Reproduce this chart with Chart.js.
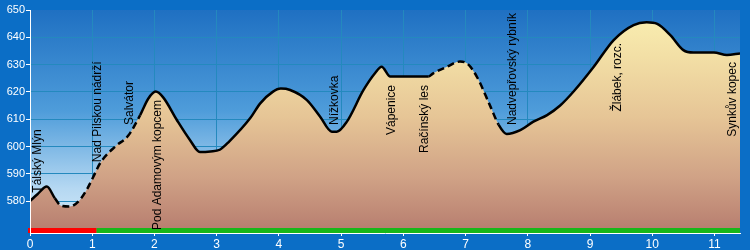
<!DOCTYPE html>
<html>
<head>
<meta charset="utf-8">
<script src="https://cdn.jsdelivr.net/npm/chart.js@4/dist/chart.umd.min.js"></script>
<style>
  html, body { margin: 0; padding: 0; background: #0B6EC6; }
  canvas { display: block; }
</style>
</head>
<body>
<canvas id="c" width="750" height="250"></canvas>
<script>
// ---- data ----
const profileKm = [0, 0.12, 0.27, 0.40, 0.50, 0.64, 0.80, 0.92, 1.02, 1.13, 1.37, 1.58, 1.77, 1.90, 2.02, 2.14, 2.36, 2.57, 2.73, 2.90, 3.05, 3.20, 3.54, 3.70, 3.90, 4.03, 4.18, 4.45, 4.66, 4.85, 4.93, 5.09, 5.36, 5.55, 5.65, 5.79, 6.40, 6.48, 6.70, 6.91, 7.02, 7.18, 7.40, 7.53, 7.66, 7.88, 8.09, 8.31, 8.52, 8.75, 9.06, 9.38, 9.70, 9.91, 10.08, 10.29, 10.50, 10.66, 10.99, 11.20, 11.41];
const profileElev = [580, 582.5, 585.3, 581, 578.3, 578, 580.4, 584.5, 589, 594, 600, 604, 611.5, 617.5, 620.1, 618, 609.7, 602.4, 598, 598.2, 598.8, 601.8, 610.4, 615.8, 620, 621.2, 620.7, 617, 611, 605.4, 605.4, 609, 620.7, 627, 629.2, 625.6, 625.6, 626.8, 629.2, 631.1, 630.5, 625.6, 614.6, 608, 604.6, 606, 609.1, 611.5, 615, 620.5, 629.2, 639, 644.5, 645.5, 644.9, 640.8, 635.3, 634.4, 634.4, 633.5, 634.1];
const unmarkedKmRanges = [[0.40, 1.75], [6.40, 7.50]];

const waypointNames = ['Tálský Mlýn', 'Nad Pilskou nádrží', 'Salvátor', 'Pod Adamovým kopcem', 'Nížkovka', 'Vápenice', 'Račínský les', 'Nadvepřovský rybník', 'Žlábek, rozc.', 'Synkův kopec'];
const waypointKm = [0.12, 1.09, 1.61, 2.06, 4.90, 5.82, 6.35, 7.75, 9.45, 11.29];
const waypointElev = [580.5, 591.7, 605.3, 619.6, 605.3, 625.1, 625.1, 605.3, 640.5, 633.5];
const waypointSide = ['above', 'above', 'above', 'below', 'above', 'below', 'below', 'above', 'below', 'below'];

const surfaceBreaksKm = [0, 1.07, 11.41];
const surfaceKinds = ['road', 'path'];

const xTickValues = [0, 1, 2, 3, 4, 5, 6, 7, 8, 9, 10, 11];
const yTickValues = [580, 590, 600, 610, 620, 630, 640, 650];

// ---- styles ----
const FONT = '"Liberation Sans", Arial, sans-serif';
const outerBlue = '#0B6EC6';
const gridColor = '#2489BE';
const surfaceColors = { road: '#FF0000', path: '#19B719' };

function inUnmarked(km) {
  return unmarkedKmRanges.some(r => km >= r[0] - 1e-6 && km < r[1] - 1e-6);
}

const bgPlugin = {
  id: 'bg',
  beforeDraw(chart) {
    const { ctx, chartArea: a } = chart;
    ctx.save();
    ctx.fillStyle = outerBlue;
    ctx.fillRect(0, 0, chart.width, chart.height);
    const g = ctx.createLinearGradient(0, a.top, 0, a.bottom);
    g.addColorStop(0, '#1F70C2');
    g.addColorStop(0.45, '#4E9CDA');
    g.addColorStop(0.8, '#B5D8F2');
    g.addColorStop(1, '#D8ECFA');
    ctx.fillStyle = g;
    ctx.fillRect(a.left, a.top, a.right - a.left, a.bottom - a.top);
    ctx.restore();
  },
  afterDatasetsDraw(chart) {
    const { ctx, chartArea: a, scales } = chart;
    const xs = scales.x, ys = scales.y;
    ctx.save();
    // surface bar
    ctx.lineWidth = 5;
    ctx.lineCap = 'butt';
    const yb = a.bottom - 2.5;
    for (let i = 0; i < surfaceKinds.length; i++) {
      ctx.strokeStyle = surfaceColors[surfaceKinds[i]];
      ctx.beginPath();
      ctx.moveTo(xs.getPixelForValue(surfaceBreaksKm[i]) - (i === 0 ? 2 : 0), yb);
      ctx.lineTo(xs.getPixelForValue(surfaceBreaksKm[i + 1]), yb);
      ctx.stroke();
    }
    // waypoint labels
    ctx.fillStyle = '#000';
    ctx.font = '12px ' + FONT;
    ctx.textBaseline = 'middle';
    const gap = 7;
    for (let i = 0; i < waypointNames.length; i++) {
      const px = xs.getPixelForValue(waypointKm[i]);
      const py = ys.getPixelForValue(waypointElev[i]);
      ctx.save();
      if (waypointSide[i] === 'above') {
        ctx.translate(px, py - gap);
        ctx.rotate(-Math.PI / 2);
        ctx.textAlign = 'left';
      } else {
        ctx.translate(px, py + gap);
        ctx.rotate(-Math.PI / 2);
        ctx.textAlign = 'right';
      }
      ctx.fillText(waypointNames[i], 0, 0);
      ctx.restore();
    }
    ctx.restore();
  }
};

const points = profileKm.map((k, i) => ({ x: k, y: profileElev[i] }));

new Chart(document.getElementById('c'), {
  type: 'line',
  data: {
    datasets: [{
      // outline (drawn on top)
      data: points,
      order: 0,
      borderColor: '#000',
      borderWidth: 2.5,
      pointRadius: 0,
      cubicInterpolationMode: 'monotone',
      fill: false,
      segment: {
        borderDash: (ctx) => inUnmarked(ctx.p0.parsed.x) ? [7, 4] : undefined
      }
    }, {
      // terrain fill
      data: points,
      order: 1,
      borderWidth: 0,
      borderColor: 'rgba(0,0,0,0)',
      pointRadius: 0,
      cubicInterpolationMode: 'monotone',
      fill: 'start',
      backgroundColor: (ctx) => {
        const a = ctx.chart.chartArea;
        if (!a) return '#E5C394';
        const g = ctx.chart.ctx.createLinearGradient(0, a.top, 0, a.bottom);
        g.addColorStop(0, '#FAF0B2');
        g.addColorStop(0.2, '#F3E0A6');
        g.addColorStop(0.48, '#E6C596');
        g.addColorStop(0.75, '#D0A286');
        g.addColorStop(1, '#B67C6E');
        return g;
      }
    }]
  },
  options: {
    responsive: false,
    devicePixelRatio: 1,
    animation: false,
    layout: { padding: { top: 10, right: 10, left: 0, bottom: 0 } },
    plugins: { legend: { display: false }, tooltip: { enabled: false } },
    scales: {
      x: {
        type: 'linear',
        min: 0,
        max: 11.41,
        afterBuildTicks: (s) => { s.ticks = xTickValues.map(v => ({ value: v })); },
        afterFit: (s) => { s.height = 17; },
        grid: {
          color: (c) => (c.tick && c.tick.value === 0) ? 'rgba(0,0,0,0)' : gridColor,
          tickColor: '#FFFFFF',
          tickLength: 3,
          lineWidth: 1
        },
        border: { color: '#FFFFFF', width: 1, z: 1 },
        ticks: {
          color: '#FFFFFF',
          font: { size: 12, family: FONT },
          padding: 1,
          maxRotation: 0,
          autoSkip: false
        }
      },
      y: {
        type: 'linear',
        min: 568.3,
        max: 650,
        afterBuildTicks: (s) => { s.ticks = yTickValues.map(v => ({ value: v })); },
        afterFit: (s) => { s.width = 30; },
        grid: {
          color: (c) => (c.tick && c.tick.value === 650) ? 'rgba(0,0,0,0)' : gridColor,
          tickColor: '#FFFFFF',
          tickLength: 4,
          lineWidth: 1
        },
        border: { color: '#FFFFFF', width: 1, z: 1 },
        ticks: {
          color: '#FFFFFF',
          font: { size: 11, family: FONT },
          padding: 1,
          autoSkip: false
        }
      }
    }
  },
  plugins: [bgPlugin]
});
</script>
</body>
</html>
